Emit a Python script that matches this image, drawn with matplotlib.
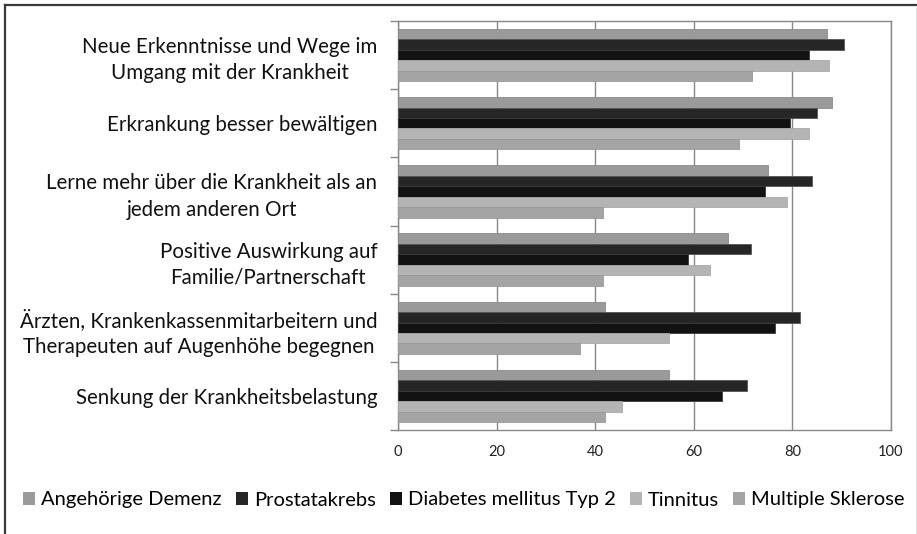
import matplotlib
matplotlib.use("Agg")
import matplotlib.pyplot as plt
import numpy as np
from matplotlib.lines import Line2D
from matplotlib.patches import Patch

plt.rcParams['font.family'] = ['Lato', 'DejaVu Sans']

categories = [
    "Neue Erkenntnisse und Wege im\nUmgang mit der Krankheit",
    "Erkrankung besser bewältigen",
    "Lerne mehr über die Krankheit als an\njedem anderen Ort",
    "Positive Auswirkung auf\nFamilie/Partnerschaft",
    "Ärzten, Krankenkassenmitarbeitern und\nTherapeuten auf Augenhöhe begegnen",
    "Senkung der Krankheitsbelastung",
]
series_names = ["Angehörige Demenz", "Prostatakrebs", "Diabetes mellitus Typ 2",
                "Tinnitus", "Multiple Sklerose"]
demenz = [87.0, 88.0, 75.1, 67.0, 42.0, 55.0]
prostata = [90.5, 84.9, 83.9, 71.6, 81.5, 70.7]
diabetes = [83.3, 79.5, 74.4, 58.9, 76.4, 65.8]
tinnitus = [87.5, 83.3, 79.0, 63.2, 55.0, 45.5]
ms = [71.8, 69.1, 41.5, 41.5, 37.0, 42.0]
values = [demenz, prostata, diabetes, tinnitus, ms]
colors = ["#9a9a9a", "#262626", "#121212", "#b4b4b4", "#a4a4a4"]
edges = ["#8a8a8a", "#555555", "#3a3a3a", "#a8a8a8", "#989898"]
xticks = [0, 20, 40, 60, 80, 100]

W, H = 917, 534
fig = plt.figure(figsize=(W / 100, H / 100), dpi=100)
ax = fig.add_axes([398 / W, (H - 430) / H, (891 - 398) / W, (430 - 21) / H])

n_cat = len(categories)
n_ser = len(values)
bar_h = 1.0 / (n_ser + 1.5)
centers = np.arange(n_cat)[::-1] + 0.5  # first category at top
for i, (vals, c, e) in enumerate(zip(values, colors, edges)):
    y = centers + (n_ser / 2 - i - 0.5) * bar_h
    ax.barh(y, vals, height=bar_h, color=c, edgecolor=e, linewidth=0.6,
            label=series_names[i], zorder=3)

ax.set_xlim(0, 100)
ax.set_ylim(0, n_cat)
ax.set_xticks(xticks)
ax.set_xticklabels([str(t) for t in xticks], fontsize=10.5)
ax.tick_params(axis='x', length=0, pad=11, colors='#222222')
ax.set_yticks(np.arange(n_cat + 1))
ax.set_yticklabels([])
ax.set_yticks(centers, minor=True)
ax.set_yticklabels(categories, minor=True, fontsize=14.8, ha='right',
                   multialignment='center', linespacing=1.4)
ax.tick_params(axis='y', which='major', length=6, width=1, color='#888888',
               direction='out')
ax.tick_params(axis='y', which='minor', length=0, pad=15, colors='#111111')
ax.xaxis.grid(True, color='#888888', linewidth=1, zorder=0)
ax.set_axisbelow(True)
for s in ax.spines.values():
    s.set_color('#888888')
    s.set_linewidth(1)

handles = [Patch(facecolor=c, edgecolor='none') for c in colors]
fig.legend(handles, series_names, loc='center',
           bbox_to_anchor=(464 / W, 1 - 500 / H), ncol=5, frameon=False,
           fontsize=14.5, handlelength=0.6, handleheight=0.6,
           handletextpad=0.3, columnspacing=0.7)

# outer frame
fig.add_artist(Line2D([4.5 / W, 1], [1 - 4.5 / H, 1 - 4.5 / H],
                      transform=fig.transFigure, color='#3a3a3a', lw=1.6))
fig.add_artist(Line2D([4.5 / W, 4.5 / W], [0, 1 - 4.5 / H],
                      transform=fig.transFigure, color='#3a3a3a', lw=1.6))
fig.add_artist(Line2D([915.5 / W, 915.5 / W], [0, 1 - 6 / H],
                      transform=fig.transFigure, color='#e6e6e6', lw=0.8))

fig.savefig("out.png", dpi=100)
